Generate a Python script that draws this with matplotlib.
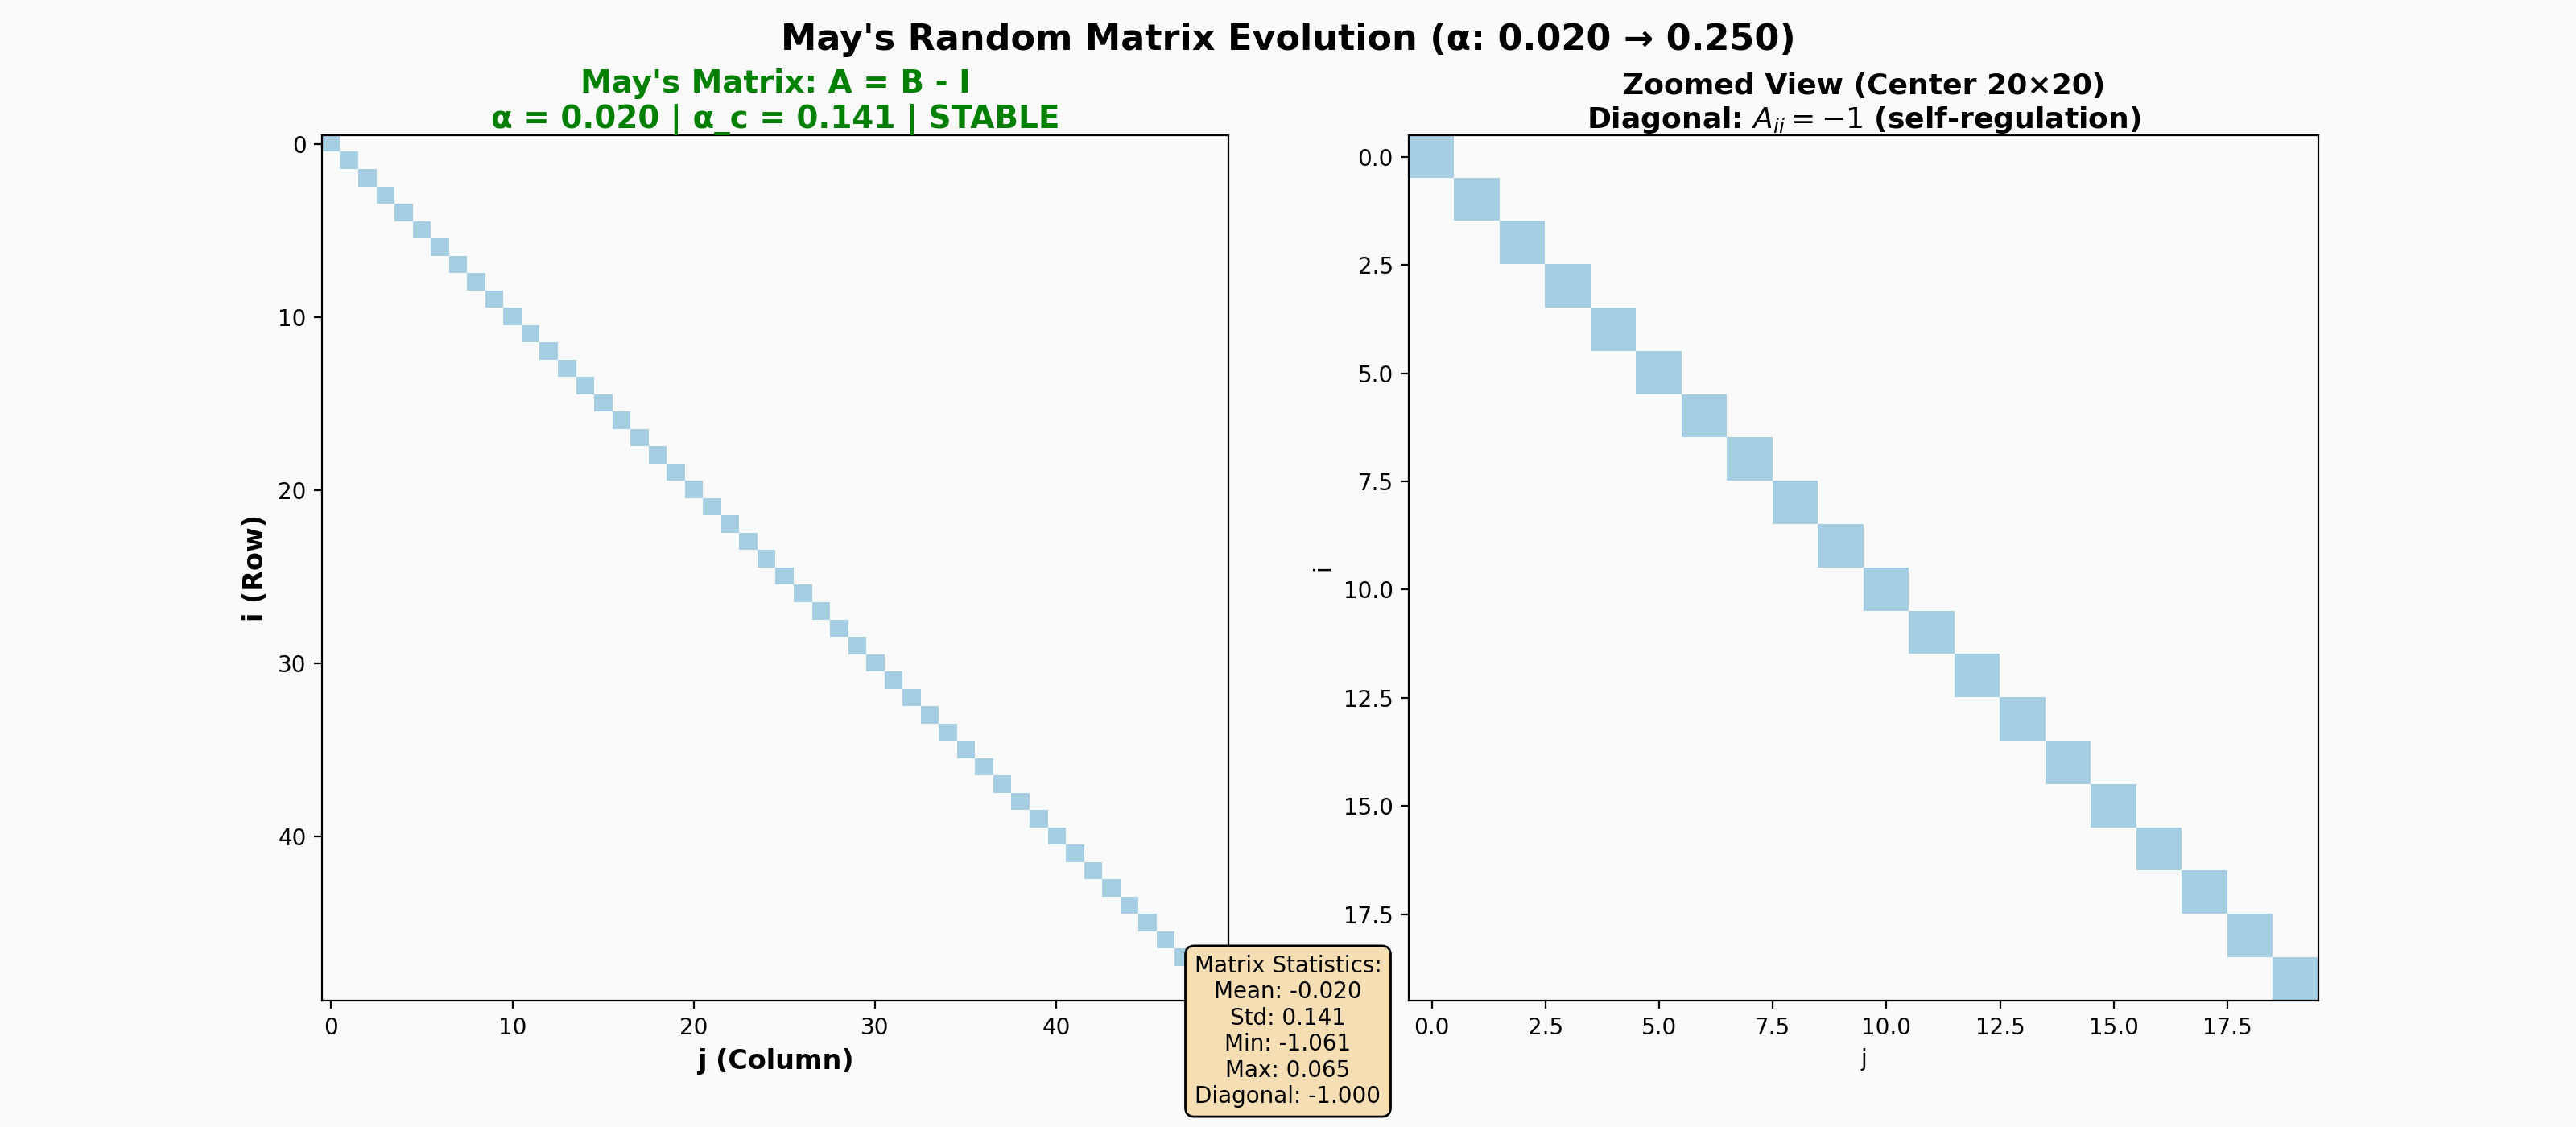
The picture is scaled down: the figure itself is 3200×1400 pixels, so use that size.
import numpy as np
import matplotlib
matplotlib.use("Agg")
import matplotlib.pyplot as plt
from matplotlib.colors import LinearSegmentedColormap

n = 50
zoom_n = 20
diag_value = -1.0
alpha = 0.020
alpha_c = 0.141
stats = {"Mean": -0.020, "Std": 0.141, "Min": -1.061, "Max": 0.065, "Diagonal": -1.000}

A = np.zeros((n, n))
np.fill_diagonal(A, diag_value)
Z = A[:zoom_n, :zoom_n]

cmap = LinearSegmentedColormap.from_list("c", ["#a6cee3", "#fafafa"])
bg = "#fafafa"
fig = plt.figure(figsize=(16, 7), dpi=200, facecolor=bg)
ax1 = fig.add_axes([0.125, 0.112, 0.352, 0.768], facecolor=bg)
ax2 = fig.add_axes([0.547, 0.112, 0.353, 0.768], facecolor=bg)

ax1.imshow(A, cmap=cmap, vmin=-1, vmax=0, aspect="auto", interpolation="nearest")
ax1.set_xlabel("j (Column)", fontsize=12, fontweight="bold")
ax1.set_ylabel("i (Row)", fontsize=12, fontweight="bold")
ax1.set_title(f"May's Matrix: A = B - I\nα = {alpha:.3f} | α_c = {alpha_c:.3f} | STABLE",
              color="green", fontsize=14, fontweight="bold", pad=3)

ax2.imshow(Z, cmap=cmap, vmin=-1, vmax=0, aspect="auto", interpolation="nearest")
ax2.set_xticks(np.arange(0, 20, 2.5))
ax2.set_yticks(np.arange(0, 20, 2.5))
ax2.xaxis.set_major_formatter(matplotlib.ticker.FormatStrFormatter("%.1f"))
ax2.yaxis.set_major_formatter(matplotlib.ticker.FormatStrFormatter("%.1f"))
ax2.set_xlabel("j")
ax2.set_ylabel("i")
ax2.set_title("Zoomed View (Center 20×20)\nDiagonal: $A_{ii} = -1$ (self-regulation)",
              fontsize=13, fontweight="bold", pad=3)

fig.suptitle("May's Random Matrix Evolution (α: 0.020 → 0.250)", fontsize=16,
             fontweight="bold", y=0.98)

txt = "Matrix Statistics:\n" + "\n".join(f"{k}: {v:.3f}" for k, v in stats.items())
fig.text(0.5, 0.085, txt, ha="center", va="center", fontsize=10, zorder=10,
         bbox=dict(boxstyle="round,pad=0.4", facecolor="#f5deb3", edgecolor="black"))

fig.savefig("out.png", dpi=200, facecolor=bg)
